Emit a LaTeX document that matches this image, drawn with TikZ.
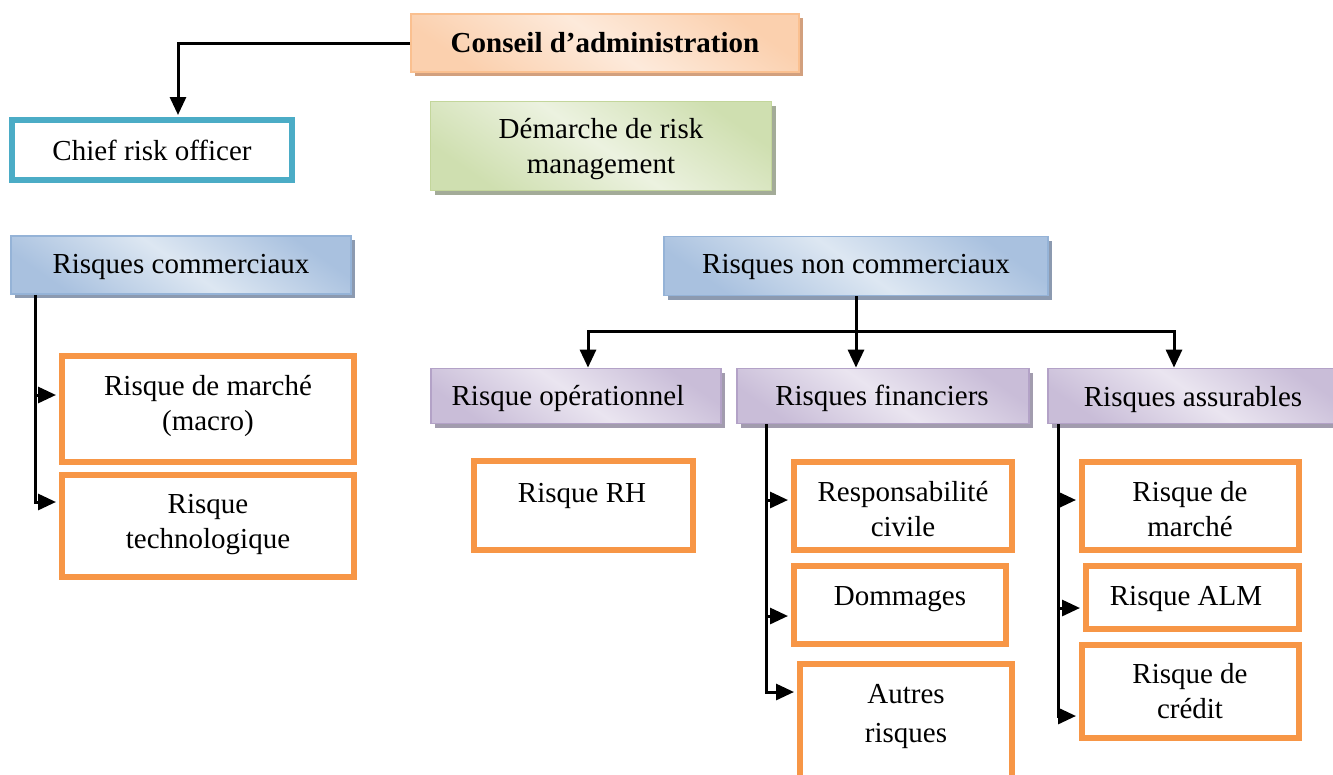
\documentclass[tikz,border=0pt]{standalone}
\usepackage{fontspec}
\setmainfont{Liberation Serif}
\usetikzlibrary{arrows.meta,calc,shadows}

\definecolor{orangeline}{HTML}{F79646}
\definecolor{tealline}{HTML}{4BACC6}
\definecolor{peachA}{HTML}{FBD0AE}
\definecolor{peachB}{HTML}{FDEADB}
\definecolor{peachline}{HTML}{FAC090}
\definecolor{peachshadow}{HTML}{D2A07E}
\definecolor{greenA}{HTML}{CFDFB0}
\definecolor{greenB}{HTML}{ECF2E0}
\definecolor{greenline}{HTML}{C3D69B}
\definecolor{greenshadow}{HTML}{A3AB98}
\definecolor{blueA}{HTML}{A9C1DF}
\definecolor{blueB}{HTML}{DDE7F2}
\definecolor{blueline}{HTML}{95B3D7}
\definecolor{blueshadow}{HTML}{8C9AB0}
\definecolor{purpleA}{HTML}{C9BDD8}
\definecolor{purpleB}{HTML}{EAE5F0}
\definecolor{purpleline}{HTML}{B3A2C7}
\definecolor{purpleshadow}{HTML}{A29CAE}

\newcommand{\twolines}[3][0pt]{\begin{tabular}[t]{@{}c@{}}#2\\[#1]#3\end{tabular}}

\tikzset{
  every node/.style={font=\fontsize{29}{35}\selectfont},
  gradbox/.style={draw=#1line, line width=1.8pt, inner sep=0pt,
    left color=#1A, right color=#1A, middle color=#1B,
    shading angle=-35,
    general shadow={fill=#1shadow, shadow xshift=4pt, shadow yshift=-4pt}},
  riskbox/.style={draw=orangeline, line width=6pt, fill=white, inner sep=0pt},
  crobox/.style={draw=tealline, line width=6pt, fill=white, inner sep=0pt},
  label/.style={anchor=base, inner sep=0pt},
  conn/.style={line width=3pt, draw=black},
  arr/.style={conn, -{Triangle[length=18pt,width=16pt]}},
}

\begin{document}
\begin{tikzpicture}[x=1pt,y=-1pt]
\useasboundingbox (0,0) rectangle (1333,774);

% top of the organisation
\node[gradbox=peach, minimum width=388pt, minimum height=58pt] (conseil) at (605,43) {};
\node[label, font=\fontsize{29}{35}\selectfont\bfseries] (tconseil) at (605,52) {Conseil d’administration};

\node[gradbox=green, minimum width=341pt, minimum height=89pt] (demarche) at (601,146) {};
\node[label] (tdemarche) at (601,138) {\twolines{Démarche de risk}{management}};

\node[crobox, minimum width=280pt, minimum height=60pt] (cro) at (152,150) {};
\node[label] (tcro) at (152,160) {Chief risk officer};

% the two families of risks
\node[gradbox=blue, minimum width=340pt, minimum height=58pt] (com) at (181,265) {};
\node[label] (tcom) at (181,273) {Risques commerciaux};

\node[gradbox=blue, minimum width=384pt, minimum height=59pt] (noncom) at (856,266) {};
\node[label] (tnoncom) at (856,273) {Risques non commerciaux};

% commercial risks
\node[riskbox, minimum width=292pt, minimum height=106pt] (macro) at (208,409) {};
\node[label] (tmacro) at (208,395) {\twolines{Risque de marché}{(macro)}};

\node[riskbox, minimum width=292pt, minimum height=102pt] (techno) at (208,526) {};
\node[label] (ttechno) at (208,513) {\twolines{Risque}{technologique}};

% non-commercial risk categories
\node[gradbox=purple, minimum width=290pt, minimum height=55pt] (oper) at (576,396) {};
\node[label] (toper) at (568,405) {Risque opérationnel};

\node[gradbox=purple, minimum width=292pt, minimum height=55pt] (fin) at (883,396) {};
\node[label] (tfin) at (882,405) {Risques financiers};

\node[gradbox=purple, minimum width=296pt, minimum height=55pt] (assur) at (1196,396) {};
\node[label] (tassur) at (1193,406) {Risques assurables};

% operational
\node[riskbox, minimum width=219pt, minimum height=89pt] (rh) at (583.5,505.5) {};
\node[label] (trh) at (582,502) {Risque RH};

% financial
\node[riskbox, minimum width=218pt, minimum height=88pt] (resp) at (903,506) {};
\node[label] (tresp) at (903,501) {\twolines{Responsabilité}{civile}};

\node[riskbox, minimum width=212pt, minimum height=78pt] (domm) at (900,605) {};
\node[label] (tdomm) at (900,605) {Dommages};

\node[riskbox, minimum width=212pt, minimum height=114pt] (autres) at (906,721) {};
\node[label] (tautres) at (906,703) {\twolines[4pt]{Autres}{risques}};

% insurable
\node[riskbox, minimum width=217pt, minimum height=88pt] (marche) at (1190.5,506) {};
\node[label] (tmarche) at (1190,501) {\twolines{Risque de}{marché}};

\node[riskbox, minimum width=213pt, minimum height=63pt] (alm) at (1192.5,597.5) {};
\node[label] (talm) at (1186,605) {Risque ALM};

\node[riskbox, minimum width=217pt, minimum height=93pt] (credit) at (1190.5,691.5) {};
\node[label] (tcredit) at (1190,683) {\twolines{Risque de}{crédit}};

% connectors
\draw[arr, shorten >=2pt] (conseil.west) -| ($(cro.north)+(26,0)$);

\coordinate (comtrunk) at ($(com.south west)+(25,0)$);
\draw[arr, shorten >=3pt] (comtrunk) |- ($(techno.west)+(0,-24)$);
\draw[arr, shorten >=3pt] (comtrunk |- 0,395) -- ($(macro.west)+(0,-14)$);

\coordinate (hub) at ($(noncom.south)+(0,35)$);
\draw[conn] (noncom.south) -- (hub);
\draw[arr] (hub) -| ($(oper.north)+(12,0)$);
\draw[arr] (hub) -| ($(assur.north)+(-22,0)$);
\draw[arr] (noncom.south) -- (noncom.south |- fin.north);

\coordinate (fintrunk) at ($(fin.south west)+(30,0)$);
\draw[arr, shorten >=3pt] (fintrunk) |- ($(autres.west)+(0,-29)$);
\draw[arr, shorten >=3pt] (fintrunk |- 0,500) -- ($(resp.west)+(0,-6)$);
\draw[arr, shorten >=3pt] (fintrunk |- 0,616) -- ($(domm.west)+(0,11)$);

\coordinate (assurtrunk) at ($(assur.south west)+(11,0)$);
\draw[arr, shorten >=3pt] (assurtrunk) |- ($(credit.west)+(0,24.5)$);
\draw[arr, shorten >=3pt] (assurtrunk |- 0,500) -- ($(marche.west)+(0,-6)$);
\draw[arr, shorten >=3pt] (assurtrunk |- 0,608) -- ($(alm.west)+(0,10.5)$);
\end{tikzpicture}
\end{document}
